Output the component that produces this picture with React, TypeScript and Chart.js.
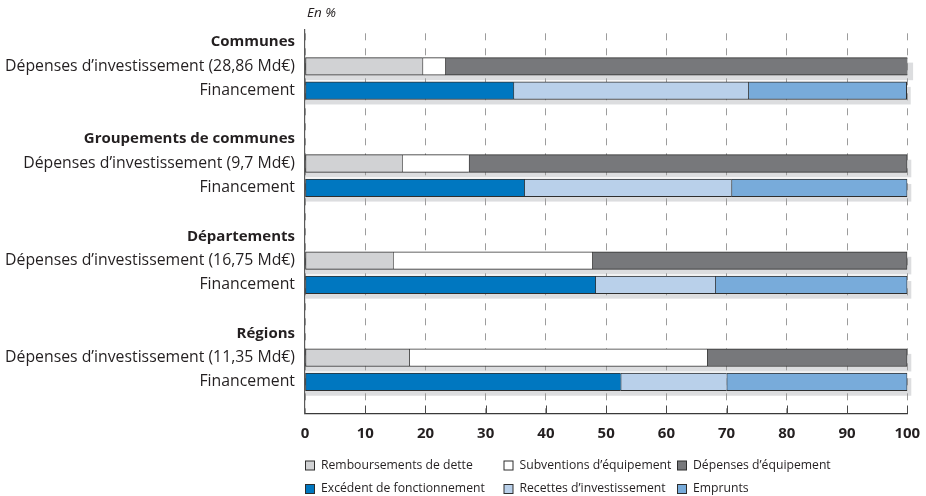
import { useEffect, useRef } from 'react';
import { Chart, registerables } from 'chart.js';

Chart.register(...registerables);

// Row labels, top to bottom: one header row, two bar rows and a spacer per group
const rowLabels = [
  'Communes',
  'Dépenses d’investissement (28,86 Md€)',
  'Financement',
  '',
  'Groupements de communes',
  'Dépenses d’investissement (9,7 Md€)',
  'Financement',
  '',
  'Départements',
  'Dépenses d’investissement (16,75 Md€)',
  'Financement',
  '',
  'Régions',
  'Dépenses d’investissement (11,35 Md€)',
  'Financement',
  '',
];

// Shares in % per group: Communes, Groupements de communes, Départements, Régions
const remboursements = [19.5, 16.1, 14.6, 17.3];
const subventions = [3.8, 11.1, 33.1, 49.45];
const depensesEquipement = [77.0, 72.8, 52.3, 33.25];
const excedent = [34.6, 36.4, 48.2, 52.4];
const recettes = [39.0, 34.4, 19.9, 17.6];
const emprunts = [26.3, 29.2, 31.9, 30.0];

const seriesNames = [
  'Remboursements de dette',
  'Subventions d’équipement',
  'Dépenses d’équipement',
  'Excédent de fonctionnement',
  'Recettes d’investissement',
  'Emprunts',
];
const seriesColors = ['#d1d2d4', '#ffffff', '#77787b', '#0077c0', '#b9d0ea', '#78abda'];

const xTickValues = [0, 10, 20, 30, 40, 50, 60, 70, 80, 90, 100];

const FONT = '"Open Sans", "DejaVu Sans", sans-serif';
const TEXT = '#231f20';
const EDGE = '#2e2e2e';

const rowPoints = (values: number[], offset: number) =>
  values.map((v, g) => ({ x: v, y: g * 4 + offset }));

// Light grey offset block behind each stacked bar
const shadowPlugin = {
  id: 'barShadow',
  beforeDraw(chart: any) {
    const rows: Record<number, { l: number; r: number; t: number; b: number }> = {};
    chart.data.datasets.forEach((_: any, i: number) => {
      const meta = chart.getDatasetMeta(i);
      meta.data.forEach((el: any, j: number) => {
        const raw = chart.data.datasets[i].data[j];
        const key = raw.y;
        const l = Math.min(el.base, el.x);
        const r = Math.max(el.base, el.x);
        const t = el.y - el.height / 2;
        const b = el.y + el.height / 2;
        const cur = rows[key];
        if (!cur) rows[key] = { l, r, t, b };
        else {
          cur.l = Math.min(cur.l, l);
          cur.r = Math.max(cur.r, r);
        }
      });
    });
    const ctx = chart.ctx;
    ctx.save();
    ctx.fillStyle = '#dcdddf';
    Object.values(rows).forEach((s) => {
      ctx.fillRect(s.l, s.t + 5, s.r - s.l + 4, s.b - s.t);
    });
    ctx.restore();
  },
};

// Inward tick marks on the value axis, unit caption and the two-row legend
const decorPlugin = {
  id: 'decor',
  afterDraw(chart: any) {
    const ctx = chart.ctx;
    const xs = chart.scales.x;
    const area = chart.chartArea;
    ctx.save();
    ctx.strokeStyle = '#4a4a4a';
    ctx.lineWidth = 1;
    xTickValues.slice(1).forEach((v) => {
      const px = Math.round(xs.getPixelForValue(v)) + 0.5;
      ctx.beginPath();
      ctx.moveTo(px, area.bottom - 8);
      ctx.lineTo(px, area.bottom);
      ctx.stroke();
    });

    ctx.fillStyle = TEXT;
    ctx.font = `italic 13.5px ${FONT}`;
    ctx.textBaseline = 'middle';
    ctx.textAlign = 'left';
    ctx.fillText('En %', area.left + 2, 13);

    const colX = [305, 503.5, 677];
    const rowY = [465.5, 489];
    ctx.font = `12.2px ${FONT}`;
    chart.data.datasets.forEach((ds: any, i: number) => {
      const bx = colX[i % 3];
      const by = rowY[Math.floor(i / 3)];
      ctx.fillStyle = ds.backgroundColor;
      ctx.fillRect(bx + 0.5, by - 4.5, 9, 9);
      ctx.strokeStyle = EDGE;
      ctx.strokeRect(bx + 0.5, by - 4.5, 9, 9);
      ctx.fillStyle = TEXT;
      ctx.fillText(ds.label, bx + 16, by);
    });
    ctx.restore();
  },
};

export default function App() {
  const canvasRef = useRef<HTMLCanvasElement | null>(null);

  useEffect(() => {
    const canvas = canvasRef.current;
    if (!canvas) return;
    const series = [remboursements, subventions, depensesEquipement, excedent, recettes, emprunts];
    const chart = new Chart(canvas, {
      type: 'bar',
      data: {
        datasets: series.map((values, i) => ({
          label: seriesNames[i],
          data: rowPoints(values, i < 3 ? 1 : 2),
          backgroundColor: seriesColors[i],
          borderColor: EDGE,
          borderWidth: { top: 1, bottom: 1, left: 1, right: i === 2 || i === 5 ? 1 : 0 },
          borderSkipped: false,
          barThickness: 17.6,
          stack: 'all',
        })),
      },
      options: {
        animation: false,
        responsive: false,
        indexAxis: 'y',
        layout: { padding: { top: 30, right: 18.7, left: 0, bottom: 0 } },
        plugins: {
          legend: { display: false },
          tooltip: { enabled: false },
        },
        scales: {
          x: {
            type: 'linear',
            stacked: true,
            min: 0,
            max: 100,
            afterBuildTicks: (axis: any) => {
              axis.ticks = xTickValues.map((value) => ({ value }));
            },
            afterFit: (axis: any) => {
              axis.height = 82.5;
              axis.paddingLeft = 0;
              axis.paddingRight = 0;
            },
            grid: {
              color: '#9c9c9c',
              lineWidth: 1,
              drawTicks: false,
            },
            border: {
              display: true,
              color: '#3a3a3a',
              width: 1.2,
              dash: [7, 8],
              dashOffset: 11.7,
            },
            ticks: {
              padding: 11,
              color: TEXT,
              font: { family: FONT, size: 15, weight: 'bold' },
            },
          },
          y: {
            type: 'linear',
            stacked: true,
            reverse: true,
            offset: false,
            bounds: 'data',
            min: -0.5,
            max: 15.3,
            afterDataLimits: (axis: any) => {
              axis.min = -0.5;
              axis.max = 15.3;
            },
            afterBuildTicks: (axis: any) => {
              axis.ticks = rowLabels.map((_, value) => ({ value }));
            },
            afterFit: (axis: any) => {
              axis.width = 305;
              axis.paddingTop = 0;
              axis.paddingBottom = 0;
            },
            grid: { display: false, drawTicks: false, offset: false },
            border: { display: true, color: '#5a5a5a', width: 1.2 },
            ticks: {
              padding: 10,
              color: TEXT,
              autoSkip: false,
              callback: (value: any) => rowLabels[value as number] ?? '',
              font: (ctx: any) =>
                ctx.index % 4 === 0
                  ? { family: FONT, size: 15, weight: 'bold' }
                  : { family: FONT, size: 15.8, weight: 'normal' },
            },
          },
        },
      },
      plugins: [shadowPlugin, decorPlugin],
    });
    return () => chart.destroy();
  }, []);

  return (
    <div style={{ position: 'absolute', left: 0, top: 0, width: 926, height: 496, background: '#ffffff' }}>
      <canvas ref={canvasRef} width={926} height={496} style={{ width: 926, height: 496, display: 'block' }} />
    </div>
  );
}
